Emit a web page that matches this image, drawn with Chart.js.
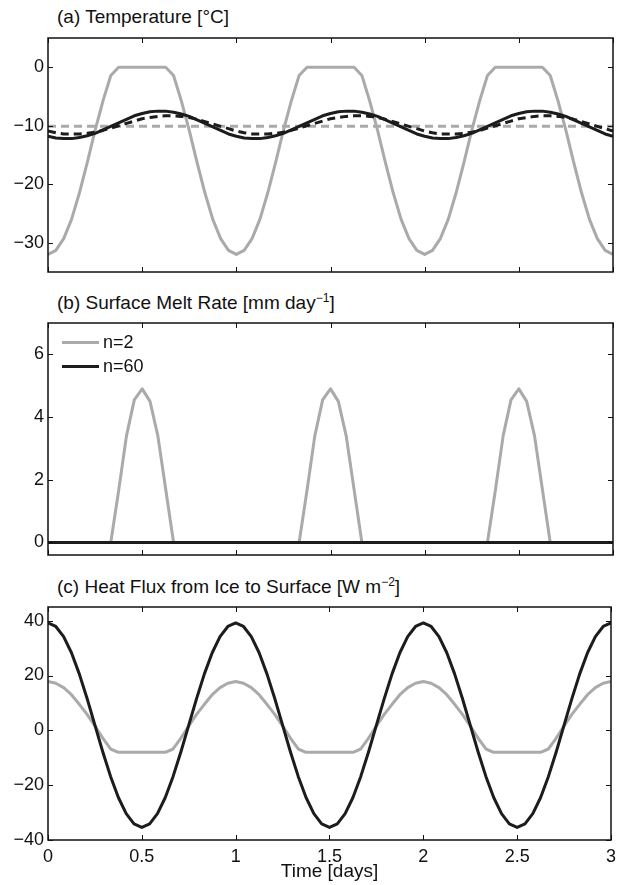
<!DOCTYPE html>
<html>
<head>
<meta charset="utf-8">
<script src="https://cdn.jsdelivr.net/npm/chart.js@4.4.1/dist/chart.umd.min.js"></script>
<style>
  body { margin: 0; background: #fff; }
  #wrap { position: relative; width: 622px; height: 885px; font-family: 'Liberation Sans', Arial, sans-serif; color: #111; }
  #wrap canvas { position: absolute; left: 0; }
  .title { position: absolute; left: 57px; font-size: 19px; line-height: 19px; white-space: nowrap; }
  .title sup { font-size: 12px; vertical-align: 7px; line-height: 0; }
  .legend { position: absolute; left: 62px; font-size: 18px; line-height: 18px; }
  .legend div { display: flex; align-items: center; height: 24px; }
  .legend span.swatch { display: inline-block; width: 37px; height: 3px; margin-right: 4px; }
</style>
</head>
<body>
<div id="wrap">
  <div class="title" style="top:7px">(a) Temperature [°C]</div>
  <canvas id="chart-a" width="622" height="290" style="top:0"></canvas>

  <div class="title" style="top:293px">(b) Surface Melt Rate [mm day<sup>−1</sup>]</div>
  <canvas id="chart-b" width="622" height="280" style="top:290px"></canvas>
  <div class="legend" style="top:330px">
    <div><span class="swatch" style="background:#aaaaaa"></span>n=2</div>
    <div><span class="swatch" style="background:#1c1c1c"></span>n=60</div>
  </div>

  <div class="title" style="top:577px">(c) Heat Flux from Ice to Surface [W m<sup>−2</sup>]</div>
  <canvas id="chart-c" width="622" height="315" style="top:570px"></canvas>
</div>

<script>
// Hourly samples over three days
const days = Array.from({ length: 73 }, (_, h) => h / 24);
const endDays = [0, 3];

// Tick values
const xTicks = [0, 0.5, 1, 1.5, 2, 2.5, 3];
const yTicksTemp = [-30, -20, -10, 0];
const yTicksMelt = [0, 2, 4, 6];
const yTicksFlux = [-40, -20, 0, 20, 40];

// (a) Temperature [°C]
const tempN2 = [
  -32, -31.3, -29.3, -26.0, -21.5, -16.3, -10.8, -5.8, -1.4, 0, 0, 0, 0, 0, 0, 0, -1.4, -5.8, -10.8, -16.3, -21.5, -26.0, -29.3, -31.3,
  -32, -31.3, -29.3, -26.0, -21.5, -16.3, -10.8, -5.8, -1.4, 0, 0, 0, 0, 0, 0, 0, -1.4, -5.8, -10.8, -16.3, -21.5, -26.0, -29.3, -31.3,
  -32, -31.3, -29.3, -26.0, -21.5, -16.3, -10.8, -5.8, -1.4, 0, 0, 0, 0, 0, 0, 0, -1.4, -5.8, -10.8, -16.3, -21.5, -26.0, -29.3, -31.3,
  -32
];
const tempN2Deep = [-10.1, -10.1];
const tempN60 = [
  -11.8, -12.1, -12.2, -12.2, -12.0, -11.7, -11.3, -10.7, -10.1, -9.5, -8.9, -8.3, -7.9, -7.6, -7.5, -7.5, -7.7, -8.0, -8.4, -9.0, -9.6, -10.2, -10.8, -11.4,
  -11.8, -12.1, -12.2, -12.2, -12.0, -11.7, -11.3, -10.7, -10.1, -9.5, -8.9, -8.3, -7.9, -7.6, -7.5, -7.5, -7.7, -8.0, -8.4, -9.0, -9.6, -10.2, -10.8, -11.4,
  -11.8, -12.1, -12.2, -12.2, -12.0, -11.7, -11.3, -10.7, -10.1, -9.5, -8.9, -8.3, -7.9, -7.6, -7.5, -7.5, -7.7, -8.0, -8.4, -9.0, -9.6, -10.2, -10.8, -11.4,
  -11.8
];
const tempN60Deep = [
  -10.9, -11.2, -11.4, -11.4, -11.4, -11.3, -11.1, -10.8, -10.4, -10.0, -9.6, -9.2, -8.8, -8.6, -8.4, -8.3, -8.3, -8.4, -8.6, -8.9, -9.3, -9.7, -10.1, -10.5,
  -10.9, -11.2, -11.4, -11.4, -11.4, -11.3, -11.1, -10.8, -10.4, -10.0, -9.6, -9.2, -8.8, -8.6, -8.4, -8.3, -8.3, -8.4, -8.6, -8.9, -9.3, -9.7, -10.1, -10.5,
  -10.9, -11.2, -11.4, -11.4, -11.4, -11.3, -11.1, -10.8, -10.4, -10.0, -9.6, -9.2, -8.8, -8.6, -8.4, -8.3, -8.3, -8.4, -8.6, -8.9, -9.3, -9.7, -10.1, -10.5,
  -10.9
];

// (b) Surface melt rate [mm/day]
const meltN2 = [
  0, 0, 0, 0, 0, 0, 0, 0, 0, 1.65, 3.4, 4.55, 4.9, 4.5, 3.4, 1.7, 0, 0, 0, 0, 0, 0, 0, 0,
  0, 0, 0, 0, 0, 0, 0, 0, 0, 1.65, 3.4, 4.55, 4.9, 4.5, 3.4, 1.7, 0, 0, 0, 0, 0, 0, 0, 0,
  0, 0, 0, 0, 0, 0, 0, 0, 0, 1.65, 3.4, 4.55, 4.9, 4.5, 3.4, 1.7, 0, 0, 0, 0, 0, 0, 0, 0,
  0
];
const meltN60 = [0, 0];

// (c) Heat flux from ice to surface [W/m2]
const fluxN2 = [
  17.8, 17.2, 15.6, 13.0, 9.5, 5.8, 1.6, -2.8, -6.8, -8, -8, -8, -8, -8, -8, -8, -6.8, -2.8, 1.6, 5.8, 9.5, 13.0, 15.6, 17.2,
  17.8, 17.2, 15.6, 13.0, 9.5, 5.8, 1.6, -2.8, -6.8, -8, -8, -8, -8, -8, -8, -8, -6.8, -2.8, 1.6, 5.8, 9.5, 13.0, 15.6, 17.2,
  17.8, 17.2, 15.6, 13.0, 9.5, 5.8, 1.6, -2.8, -6.8, -8, -8, -8, -8, -8, -8, -8, -6.8, -2.8, 1.6, 5.8, 9.5, 13.0, 15.6, 17.2,
  17.8
];
const fluxN60 = [
  39.2, 37.9, 34.2, 28.3, 20.6, 11.6, 1.9, -7.8, -16.8, -24.5, -30.4, -34.1, -35.4, -34.1, -30.4, -24.5, -16.8, -7.8, 1.9, 11.6, 20.6, 28.3, 34.2, 37.9,
  39.2, 37.9, 34.2, 28.3, 20.6, 11.6, 1.9, -7.8, -16.8, -24.5, -30.4, -34.1, -35.4, -34.1, -30.4, -24.5, -16.8, -7.8, 1.9, 11.6, 20.6, 28.3, 34.2, 37.9,
  39.2, 37.9, 34.2, 28.3, 20.6, 11.6, 1.9, -7.8, -16.8, -24.5, -30.4, -34.1, -35.4, -34.1, -30.4, -24.5, -16.8, -7.8, 1.9, 11.6, 20.6, 28.3, 34.2, 37.9,
  39.2
];

const GREY = '#aaaaaa';
const BLACK = '#1c1c1c';
const FONT = { family: "'Liberation Sans', Arial, sans-serif", size: 18 };

const $ = (selector) => document.querySelector(selector);
const minus = (v) => String(v).replace('-', '\u2212');

// Pair x and y arrays into points
const points = (xs, ys) => ys.map((y, i) => ({ x: xs[i], y }));

function line(label, xs, ys, color, dash) {
  return {
    label,
    data: points(xs, ys),
    borderColor: color,
    borderWidth: 3,
    borderDash: dash || [],
    borderJoinStyle: 'round',
    pointRadius: 0,
    tension: 0,
    fill: false
  };
}

// Box around the axes with inward ticks on all four sides (MATLAB style)
const boxPlugin = {
  id: 'matlabBox',
  afterDraw(chart) {
    const { ctx, chartArea: a, scales } = chart;
    ctx.save();
    ctx.strokeStyle = '#111';
    ctx.lineWidth = 1;
    ctx.beginPath();
    xTicks.forEach((v) => {
      const px = Math.round(scales.x.getPixelForValue(v)) + 0.5;
      ctx.moveTo(px, a.bottom); ctx.lineTo(px, a.bottom - 5);
      ctx.moveTo(px, a.top); ctx.lineTo(px, a.top + 5);
    });
    scales.y.ticks.forEach((t) => {
      const py = Math.round(scales.y.getPixelForValue(t.value)) + 0.5;
      ctx.moveTo(a.left, py); ctx.lineTo(a.left + 5, py);
      ctx.moveTo(a.right, py); ctx.lineTo(a.right - 5, py);
    });
    ctx.stroke();
    ctx.lineWidth = 1.5;
    ctx.strokeRect(a.left, a.top, a.right - a.left, a.bottom - a.top);
    ctx.restore();
  }
};

function makePanel(id, datasets, yMin, yMax, yTicks, padTop, padBottom, showX) {
  return new Chart($(id), {
    type: 'line',
    data: { datasets },
    plugins: [boxPlugin],
    options: {
      responsive: false,
      animation: false,
      layout: { padding: { left: 0, right: 9, top: padTop, bottom: padBottom } },
      plugins: { legend: { display: false }, tooltip: { enabled: false } },
      scales: {
        x: {
          type: 'linear',
          min: 0,
          max: 3,
          display: showX,
          grid: { display: false, drawTicks: false },
          border: { display: false },
          afterBuildTicks: (s) => { s.ticks = xTicks.map((v) => ({ value: v })); },
          afterFit: (s) => { s.height = showX ? 45 : 0; },
          ticks: { font: FONT, color: '#111', padding: 6, maxRotation: 0, autoSkip: false, callback: minus },
          title: { display: showX, text: 'Time [days]', font: { ...FONT, size: 19 }, color: '#111', padding: { top: 0, bottom: 2 } }
        },
        y: {
          min: yMin,
          max: yMax,
          grid: { display: false, drawTicks: false },
          border: { display: false },
          afterBuildTicks: (s) => { s.ticks = yTicks.map((v) => ({ value: v })); },
          afterFit: (s) => { s.width = 48; },
          ticks: { font: FONT, color: '#111', padding: 4, autoSkip: false, callback: minus }
        }
      }
    }
  });
}

// Black series first so they are drawn on top
makePanel('#chart-a', [
  line('n=60', days, tempN60, BLACK),
  line('n=60 deep', days, tempN60Deep, BLACK, [8, 5]),
  line('n=2', days, tempN2, GREY),
  line('n=2 deep', endDays, tempN2Deep, GREY, [8, 5])
], -35, 5, yTicksTemp, 38, 18, false);

makePanel('#chart-b', [
  line('n=60', endDays, meltN60, BLACK),
  line('n=2', days, meltN2, GREY)
], -0.4, 7, yTicksMelt, 33, 15, false);

makePanel('#chart-c', [
  line('n=60', days, fluxN60, BLACK),
  line('n=2', days, fluxN2, GREY)
], -40, 45, yTicksFlux, 37, 0, true);
</script>
</body>
</html>
